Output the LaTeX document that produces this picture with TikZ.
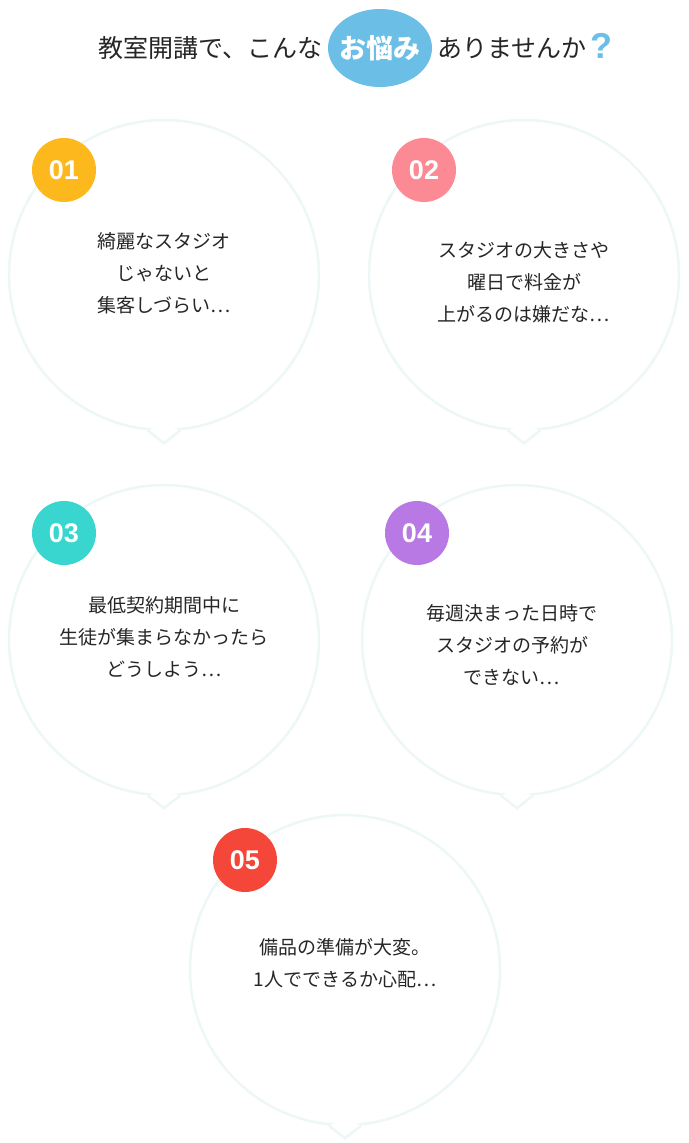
\documentclass[tikz,border=0pt]{standalone}
\usepackage{fontspec}
\setmainfont{Noto Sans CJK JP}
\newfontfamily\numfont{Liberation Sans}
\usetikzlibrary{positioning, shapes.geometric}
\definecolor{rim}{HTML}{EEF7F7}
\definecolor{blob}{HTML}{6BBFE6}
\definecolor{c1}{HTML}{FDB81E}
\definecolor{c2}{HTML}{FB8A94}
\definecolor{c3}{HTML}{38D6CF}
\definecolor{c4}{HTML}{B879E4}
\definecolor{c5}{HTML}{F5463A}
\tikzstyle{bubble} = [circle, minimum size=310pt, draw=rim, line width=2.5pt, fill=white]
\tikzstyle{badge}  = [circle, minimum size=64pt, inner sep=0pt, text=white, font=\numfont\bfseries\fontsize{27}{27}\selectfont]
\tikzstyle{say}    = [align=center, text=black!85, font=\fontsize{19}{32}\selectfont]
\tikzstyle{head}   = [text=black!85, font=\fontsize{25}{25}\selectfont]

\begin{document}
\begin{tikzpicture}[x=1pt, y=1pt]
  \useasboundingbox (0,0) rectangle (688,-1143);

  % title
  \node (blob) [ellipse, fill=blob, minimum width=104pt, minimum height=78pt] at (380,-48) {};
  \node (bt)   [text=white, font=\bfseries\fontsize{27}{27}\selectfont] at (380,-48) {お悩み};
  \node (h1)   [head, left=2pt of blob]  {教室開講で、こんな};
  \node (h2)   [head, right=2pt of blob] {ありませんか};
  \node (q)    [text=blob, font=\numfont\bfseries\fontsize{36}{36}\selectfont, right=-4pt of h2, yshift=2pt] {?};

  % bubbles
  \node (b1) [bubble] at (164,-275) {};
  \node (b2) [bubble] at (524,-275) {};
  \node (b3) [bubble] at (164,-640) {};
  \node (b4) [bubble] at (517,-640) {};
  \node (b5) [bubble] at (345,-970) {};

  \foreach \b in {b1,b2,b3,b4,b5} {
    \coordinate (\b tip) at ([yshift=-12pt]\b.south);
    \fill[white] (\b.-84) -- (\b tip) -- (\b.-96) -- ([yshift=6pt]\b.south) -- cycle;
    \draw[rim, line width=2.5pt] (\b.-84) -- (\b tip) -- (\b.-96);
  }

  % badges
  \node (n1) [badge, fill=c1] at (64,-170)  {01};
  \node (n2) [badge, fill=c2] at (424,-170) {02};
  \node (n3) [badge, fill=c3] at (64,-533)  {03};
  \node (n4) [badge, fill=c4] at (417,-533) {04};
  \node (n5) [badge, fill=c5] at (245,-860) {05};

  % texts
  \node (t1) [say] at (164,-273) {綺麗なスタジオ\\じゃないと\\集客しづらい…};
  \node (t2) [say] at (524,-282) {スタジオの大きさや\\曜日で料金が\\上がるのは嫌だな…};
  \node (t3) [say] at (164,-637) {最低契約期間中に\\生徒が集まらなかったら\\どうしよう…};
  \node (t4) [say] at (512,-645) {毎週決まった日時で\\スタジオの予約が\\できない…};
  \node (t5) [say] at (345,-963) {備品の準備が大変。\\1人でできるか心配…};
\end{tikzpicture}
\end{document}
